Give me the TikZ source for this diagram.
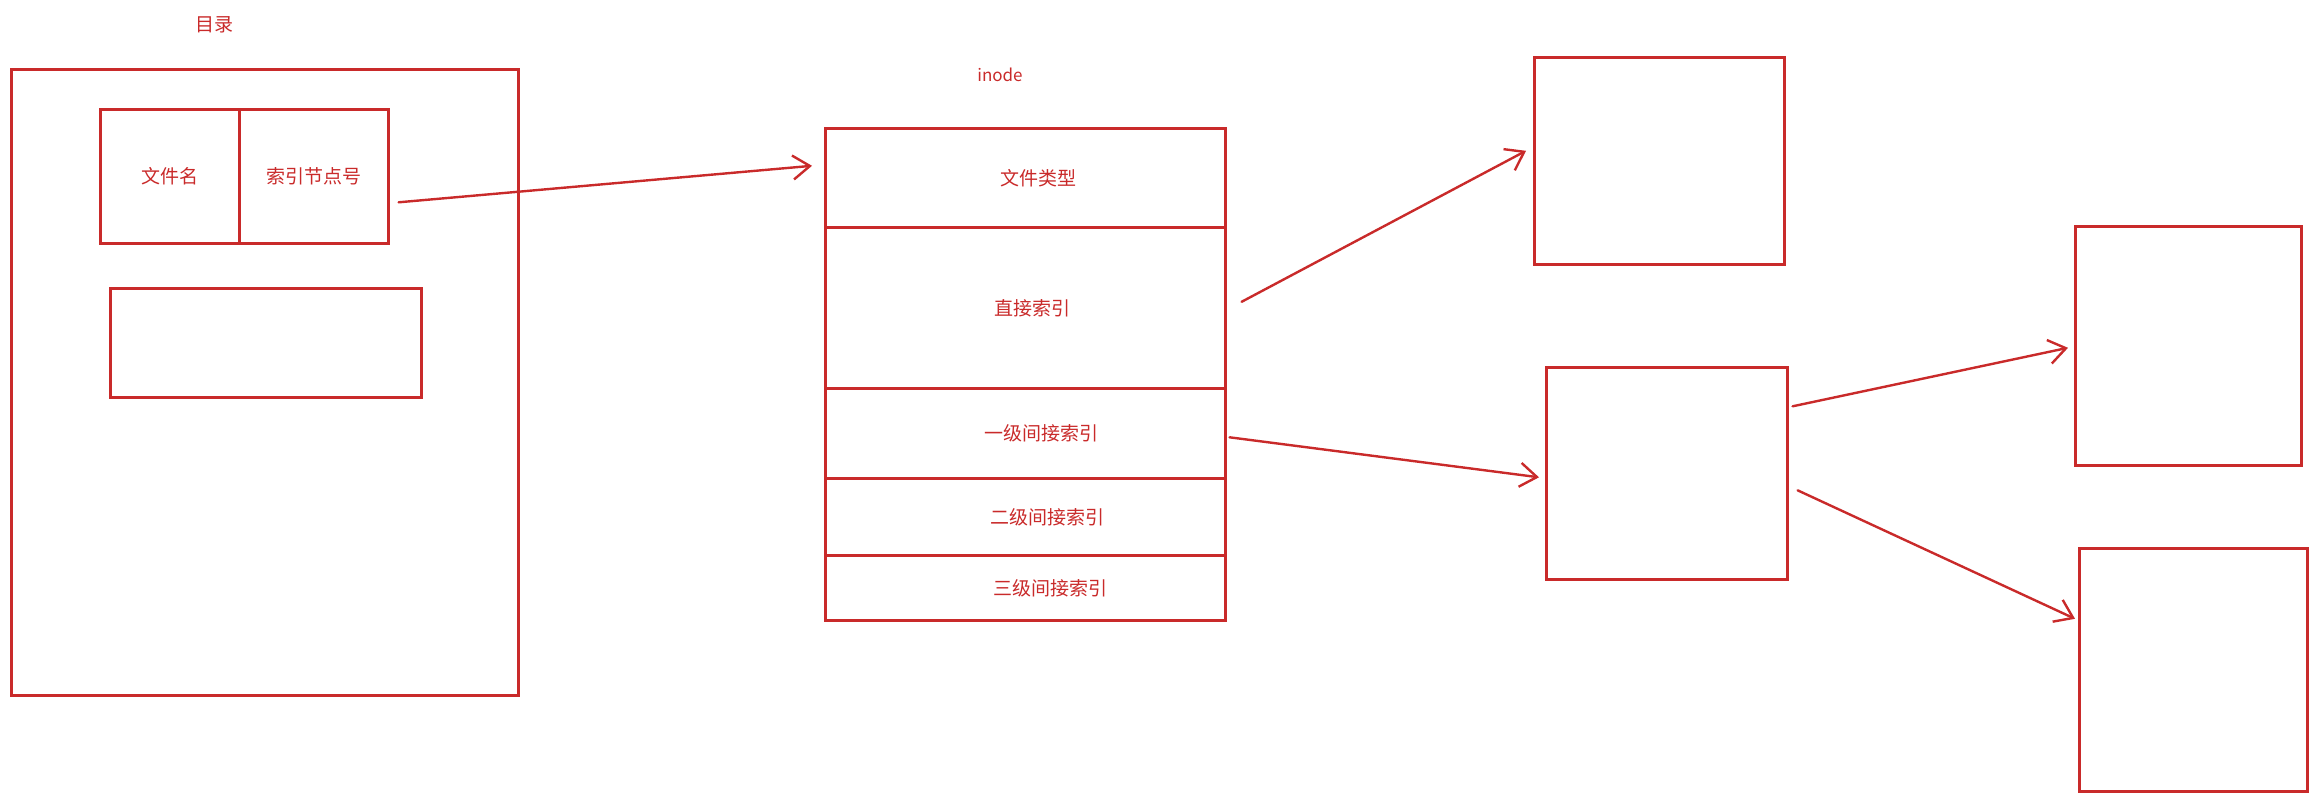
\documentclass[tikz,border=0pt]{standalone}
\usepackage{fontspec}
\setmainfont{Noto Sans CJK SC}
\definecolor{red1}{RGB}{201, 42, 42}
\usetikzlibrary{arrows.meta, positioning}

\begin{document}
\begin{tikzpicture}[x=1pt, y=-1pt,
  box/.style={draw=red1, line width=2.6pt, inner sep=0pt, anchor=north west, text=red1, font=\fontsize{19}{21}\selectfont},
  lbl/.style={text=red1, font=\fontsize{19}{21}\selectfont},
  row/.style={box, minimum width=400pt, label={[lbl, xshift=#1]center:\rowtext}},
  link/.style={draw=red1, line width=2.4pt, line cap=round, -{Straight Barb[length=17pt, width=24pt, line width=2.4pt]}}]
  \useasboundingbox (0,0) rectangle (2316,801);

  \node[box, minimum width=507pt, minimum height=626pt] (dir) at (10,68) {};
  \node[lbl] (dirlbl) at (214,25) {目录};
  \node[box, minimum width=139pt, minimum height=134pt] (fname) at (99,108) {文件名};
  \node[box, minimum width=149pt, minimum height=134pt] (idx) at (238,108) {索引节点号};
  \node[box, minimum width=311pt, minimum height=109pt] (entry) at (109,287) {};

  \node[lbl, font=\fontsize{17}{19}\selectfont] (inodelbl) at (1000,75) {inode};
  \def\rowtext{文件类型}
  \node[row=13pt, minimum height=99pt] (ftype) at (824,127) {};
  \def\rowtext{直接索引}
  \node[row=7pt, minimum height=161pt] (direct) at (824,226) {};
  \def\rowtext{一级间接索引}
  \node[row=16pt, minimum height=90pt] (single) at (824,387) {};
  \def\rowtext{二级间接索引}
  \node[row=22pt, minimum height=77pt] (double) at (824,477) {};
  \def\rowtext{三级间接索引}
  \node[row=25pt, minimum height=65pt] (triple) at (824,554) {};

  \node[box, minimum width=250pt, minimum height=207pt] (blka) at (1533,56) {};
  \node[box, minimum width=241pt, minimum height=212pt] (blkb) at (1545,366) {};
  \node[box, minimum width=226pt, minimum height=239pt] (blkc) at (2074,225) {};
  \node[box, minimum width=228pt, minimum height=243pt] (blkd) at (2078,547) {};

  \draw[link] ([xshift=9pt, yshift=-26pt]idx.east) -- ([xshift=-12pt, yshift=12pt]ftype.west);
  \draw[link] ([xshift=15pt, yshift=6pt]direct.east) -- ([xshift=-7pt, yshift=10pt]blka.west);
  \draw[link] ([xshift=3pt, yshift=-4pt]single.east) -- ([xshift=-6pt, yshift=-4pt]blkb.west);
  \draw[link] ([xshift=4pt, yshift=67pt]blkb.east) -- ([xshift=-6pt, yshift=-2pt]blkc.west);
  \draw[link] ([xshift=9pt, yshift=-17pt]blkb.east) -- ([xshift=-3pt, yshift=51pt]blkd.west);
\end{tikzpicture}
\end{document}
